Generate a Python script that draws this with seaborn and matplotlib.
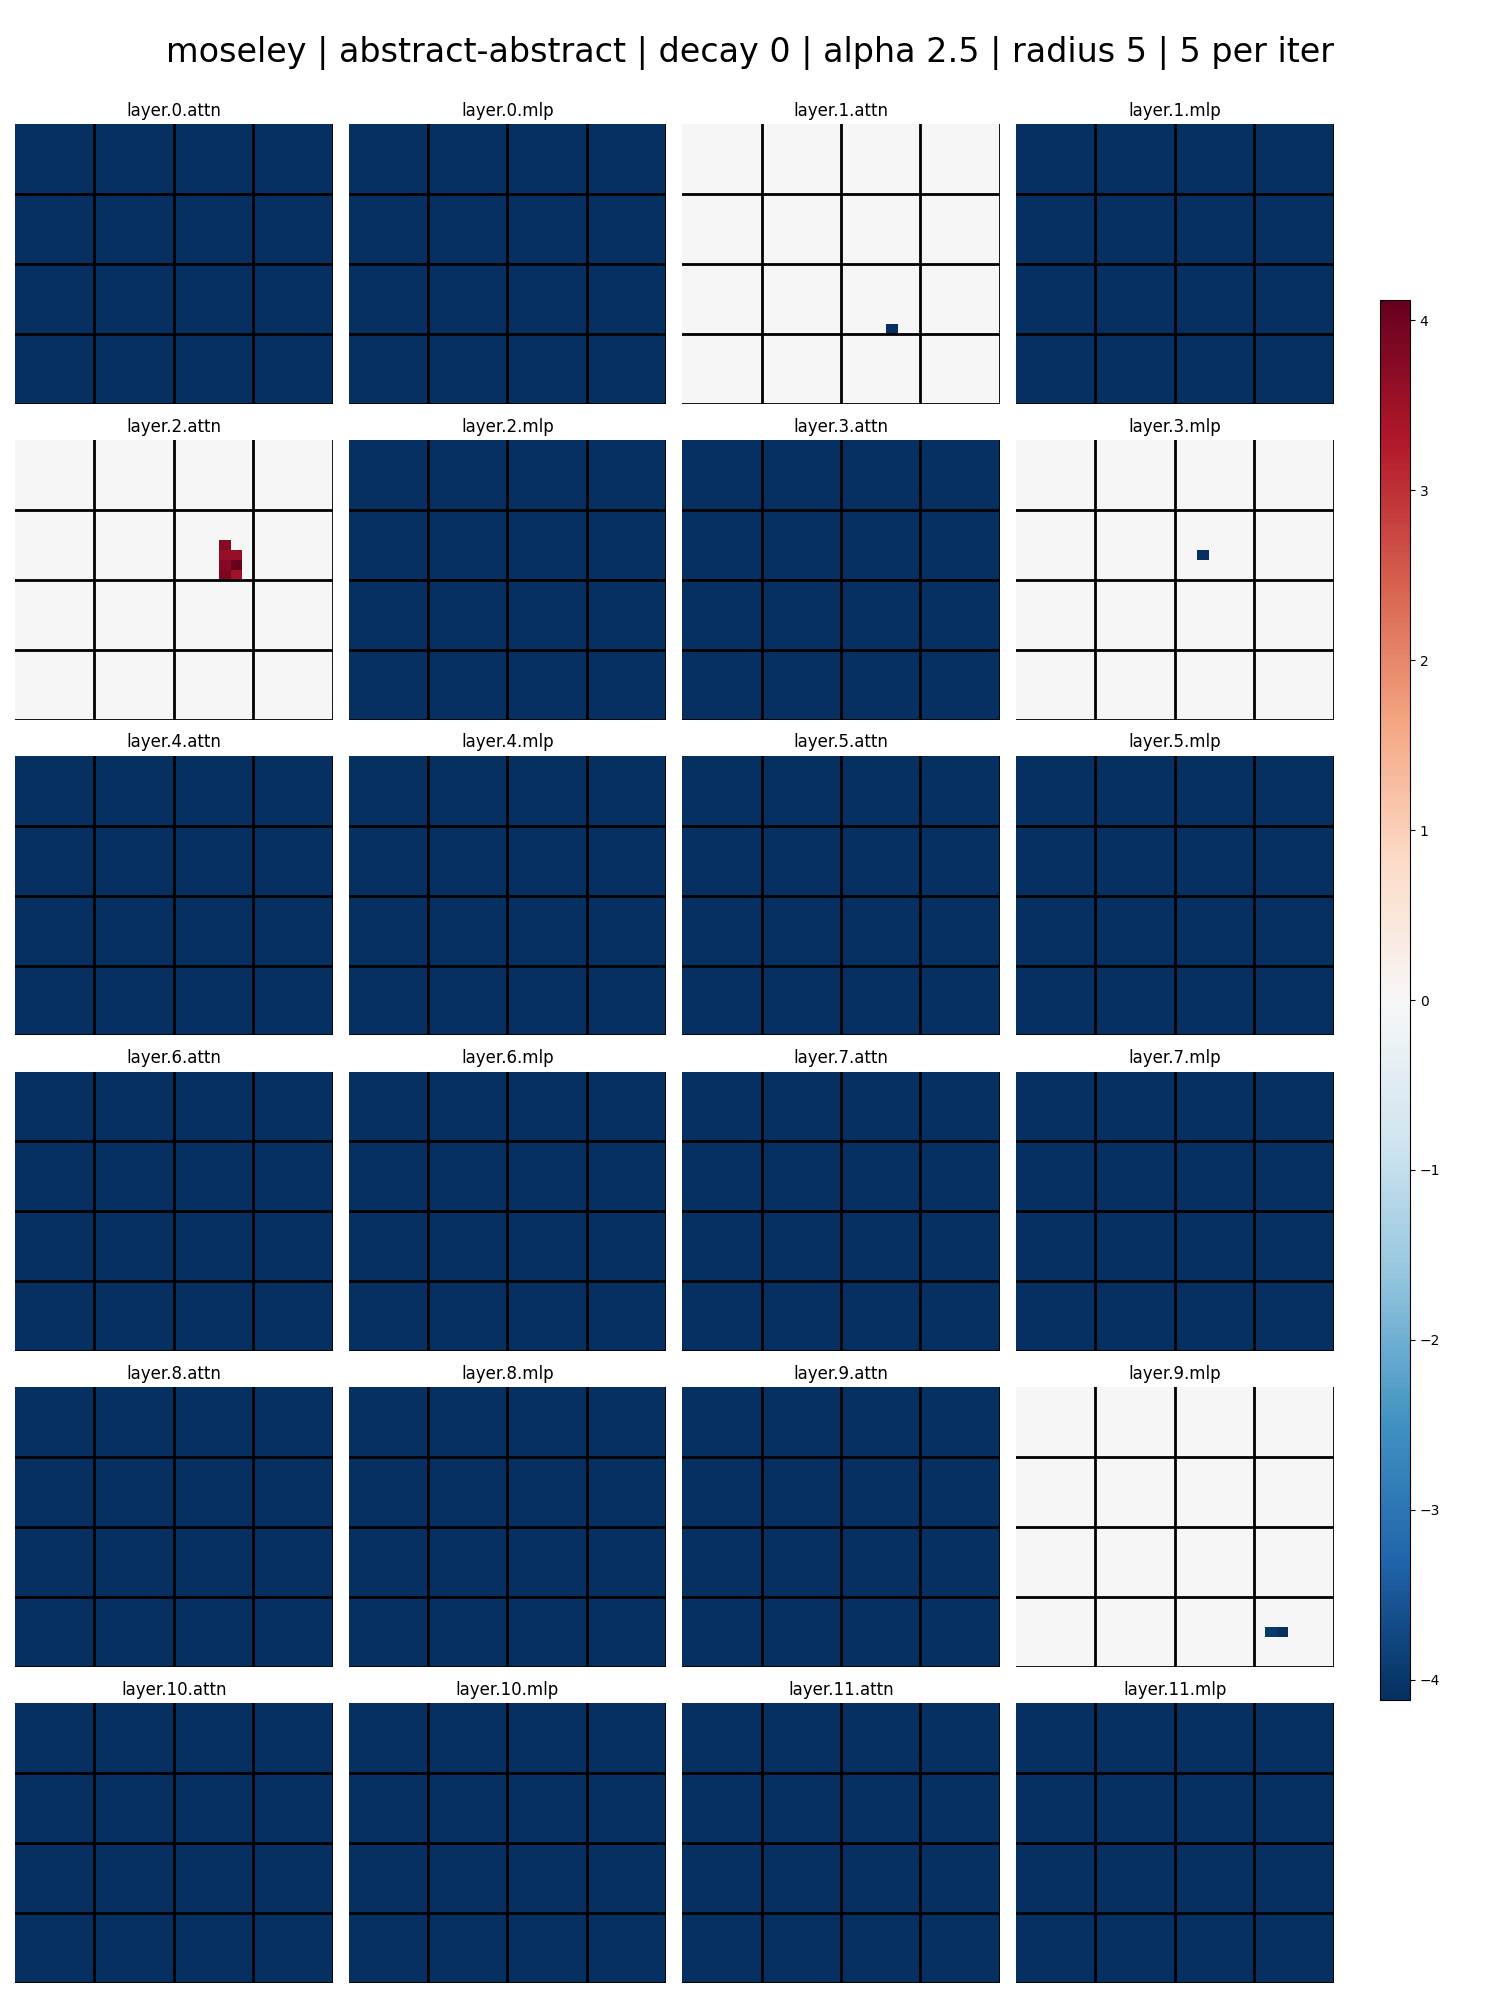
import numpy as np
import matplotlib
matplotlib.use("Agg")
import matplotlib.pyplot as plt
import seaborn as sns

# 패널 이름 (12 layers x attn/mlp)
layer_names = [
    "layer.0.attn", "layer.0.mlp", "layer.1.attn", "layer.1.mlp",
    "layer.2.attn", "layer.2.mlp", "layer.3.attn", "layer.3.mlp",
    "layer.4.attn", "layer.4.mlp", "layer.5.attn", "layer.5.mlp",
    "layer.6.attn", "layer.6.mlp", "layer.7.attn", "layer.7.mlp",
    "layer.8.attn", "layer.8.mlp", "layer.9.attn", "layer.9.mlp",
    "layer.10.attn", "layer.10.mlp", "layer.11.attn", "layer.11.mlp",
]

# 색 범위
value_limit = 4.12
floor_value = -4.12

# 배경이 0 인 패널 (나머지는 전부 floor_value)
zero_background = ["layer.1.attn", "layer.2.attn", "layer.3.mlp", "layer.9.mlp"]

# (row, col, value)
layer_1_attn_cells = [(20, 18, -4.12)]
layer_2_attn_cells = [
    (10, 18, 3.74),
    (11, 18, 3.60), (11, 19, 3.58),
    (12, 18, 3.74), (12, 19, 4.12),
    (13, 18, 3.88), (13, 19, 3.49),
]
layer_3_mlp_cells = [(11, 16, -4.12)]
layer_9_mlp_cells = [(24, 22, -3.96), (24, 23, -4.12)]

sparse_cells = {
    "layer.1.attn": layer_1_attn_cells,
    "layer.2.attn": layer_2_attn_cells,
    "layer.3.mlp": layer_3_mlp_cells,
    "layer.9.mlp": layer_9_mlp_cells,
}

grid_size = 28
block = 7

fig, axes = plt.subplots(6, 4, figsize=(15, 20), dpi=100)
fig.subplots_adjust(left=0.01, right=0.889, top=0.938, bottom=0.0085,
                     wspace=0.05, hspace=0.129)

for ax, name in zip(axes.flat, layer_names):
    if name in zero_background:
        grid = np.zeros((grid_size, grid_size))
    else:
        grid = np.full((grid_size, grid_size), floor_value)
    for r, c, v in sparse_cells.get(name, []):
        grid[r, c] = v

    sns.heatmap(grid, ax=ax, cmap="RdBu_r", vmin=-value_limit, vmax=value_limit,
                cbar=False, xticklabels=False, yticklabels=False)
    for k in range(block, grid_size + 1, block):
        ax.axhline(k, color="black", lw=2)
        ax.axvline(k, color="black", lw=2)
    ax.set_title(name, fontsize=12)

cax = fig.add_axes([0.92, 0.15, 0.02, 0.70])
cb = fig.colorbar(axes.flat[0].collections[0], cax=cax)
cb.ax.tick_params(labelsize=10)

fig.suptitle("moseley | abstract-abstract | decay 0 | alpha 2.5 | radius 5 | 5 per iter",
             fontsize=24, y=0.982)

plt.savefig("out.png", dpi=100)
